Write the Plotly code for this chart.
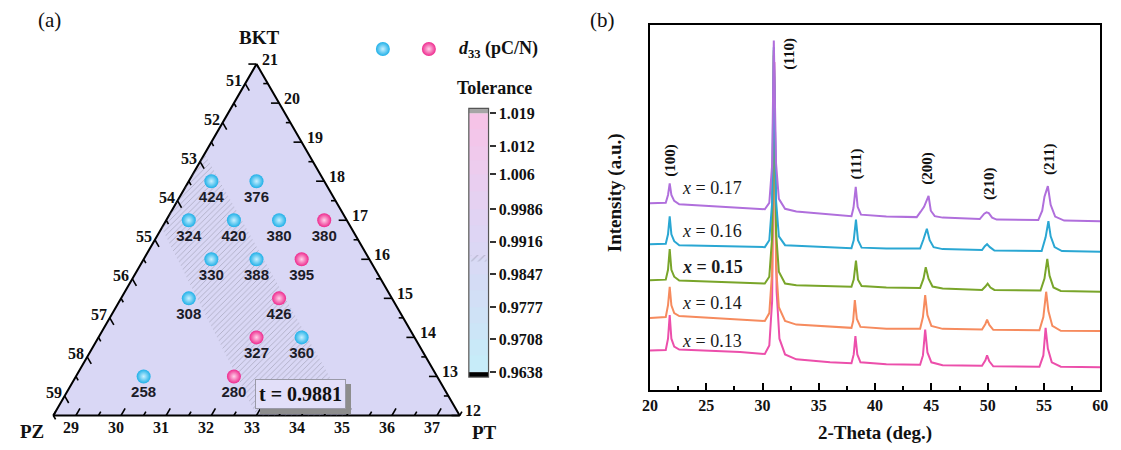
import numpy as np
import plotly.graph_objects as go

# ---------------- (a) ternary diagram data ----------------
BKT = [18, 18, 17, 17, 17, 17, 16, 16, 16, 15, 15, 14, 14, 13, 13]
PT = [29, 30, 29, 30, 31, 32, 30, 31, 32, 30, 32, 32, 33, 32, 30]
PZ = [53, 52, 54, 53, 52, 51, 54, 53, 52, 55, 53, 54, 53, 55, 57]
D33 = [424, 376, 324, 420, 380, 380, 330, 388, 395, 308, 426, 327, 360, 280, 258]
PINK = [0, 0, 0, 0, 0, 1, 0, 0, 1, 0, 1, 1, 0, 1, 0]

TOTAL = 100.0
BKT_MIN, PT_MIN, PZ_MIN = 12.0, 28.5, 50.5
BKT_TICKS = list(range(12, 22))
PZ_TICKS = list(range(51, 60))
PT_TICKS = list(range(29, 38))

BAND_BKT = [18.7, 12.0, 12.0, 16.8]
BAND_PT = [28.5, 35.1, 33.0, 28.5]
T_LABEL = "t = 0.9881"
LEGEND_TEXT = "<i>d</i><sub>33</sub> (pC/N)"

TOL_TICKS = [0.9638, 0.9708, 0.9777, 0.9847, 0.9916, 0.9986, 1.006, 1.012, 1.019]
TOL_TEXT = ["0.9638", "0.9708", "0.9777", "0.9847", "0.9916", "0.9986", "1.006", "1.012", "1.019"]
TOL_COLORS = ["#c6eefa", "#cae7f7", "#d0e0f6", "#d6dbf5", "#dcd6f4", "#e3d2f2", "#ebcdef", "#f2c7eb", "#f8c2e6"]
T_MARK = 0.9881

# ---------------- (b) XRD data ----------------
SAMPLES = ["0.13", "0.14", "0.15", "0.16", "0.17"]
LINE_COLORS = ["#ec4fab", "#f68b5e", "#79a52a", "#2aa7d3", "#b06fdc"]

X13 = [20, 21.4, 21.6, 21.75, 21.9, 22.15, 22.6, 25, 28, 30.2, 30.6, 30.85, 31.05, 31.25, 31.5, 32.0, 33.0,
       36, 37.9, 38.1, 38.25, 38.42, 38.7, 41, 44.0, 44.25, 44.45, 44.65, 45.0, 46,
       49.5, 49.8, 49.95, 50.15, 50.5, 54.6, 54.95, 55.15, 55.35, 55.7, 56.5, 60]
Y13 = [40, 40.5, 52, 76, 52, 44, 41, 40, 38.5, 36.5, 45, 90, 333, 100, 52, 36, 31,
       28, 27, 36, 54.7, 36, 28, 26, 25.5, 35, 61.3, 38, 28, 25,
       24.5, 30, 35, 29, 24, 23.5, 35, 63, 42, 28, 23.5, 23]
X14 = [20, 21.4, 21.6, 21.75, 21.9, 22.15, 22.6, 25, 28, 30.2, 30.6, 30.85, 31.0, 31.2, 31.45, 32.0, 33.0,
       36, 37.9, 38.05, 38.2, 38.38, 38.7, 41, 44.0, 44.25, 44.45, 44.65, 45.0, 46,
       49.5, 49.8, 49.95, 50.15, 50.5, 54.6, 54.95, 55.2, 55.4, 55.75, 56.5, 60]
Y14 = [73, 74, 86, 104.7, 86, 78, 75, 73.5, 72, 70, 78, 120, 340, 125, 84, 70, 66.3,
       64, 63, 70, 91.3, 72, 64, 62, 62, 74, 96.3, 76, 65, 62,
       61.3, 67, 71.3, 66, 61, 60.5, 74, 99.7, 80, 65, 60, 59.7]
X15 = [20, 21.4, 21.6, 21.75, 21.9, 22.15, 22.6, 25, 28, 30.2, 30.6, 30.85, 31.0, 31.2, 31.45, 32.0, 33.0,
       36, 37.9, 38.1, 38.3, 38.48, 38.8, 41, 44.0, 44.3, 44.5, 44.75, 45.1, 46,
       49.5, 49.8, 50.0, 50.25, 50.6, 54.7, 55.05, 55.3, 55.5, 55.85, 56.5, 60]
Y15 = [111.3, 112, 122, 143, 122, 115, 111, 110, 109, 108, 115, 155, 345, 160, 120, 108, 106.3,
       105.5, 104.7, 112, 131.3, 112, 105.5, 104, 103.5, 113, 124.7, 113, 105, 103,
       101.5, 105, 108, 104, 101.5, 101, 113, 133, 116, 104, 100.5, 99.7]
X16 = [20, 21.4, 21.6, 21.75, 21.9, 22.15, 22.6, 25, 28, 30.2, 30.6, 30.85, 31.0, 31.2, 31.45, 32.0, 33.0,
       36, 37.9, 38.1, 38.3, 38.48, 38.8, 41, 44.0, 44.3, 44.6, 44.85, 45.2, 46,
       49.5, 49.75, 49.95, 50.2, 50.6, 54.8, 55.15, 55.4, 55.6, 55.95, 56.6, 60]
Y16 = [148, 148.5, 158, 176.3, 158, 151, 147, 146.5, 146, 145, 152, 190, 348, 192, 156, 147, 146.3,
       145, 144, 152, 173, 152, 144.5, 143.5, 143.5, 153, 163.7, 152, 145, 143,
       142, 146, 148, 145, 141.5, 141, 155, 171.3, 156, 145, 141, 140.3]
X17 = [20, 21.4, 21.6, 21.75, 21.9, 22.15, 22.6, 25, 28, 30.2, 30.6, 30.85, 31.0, 31.2, 31.45, 32.0, 33.0,
       36, 37.9, 38.08, 38.28, 38.45, 38.75, 41, 43.7, 44.05, 44.35, 44.75, 44.95, 45.3, 46,
       49.3, 49.7, 49.9, 50.1, 50.4, 50.8, 54.5, 54.85, 55.05, 55.35, 55.6, 56.0, 56.8, 60]
Y17 = [189.7, 190, 198, 209.7, 198, 192, 188.5, 187, 185, 183.5, 190, 228, 355, 230, 194, 184, 181.3,
       178.5, 176.5, 185, 206.3, 186, 178, 176, 175.5, 181, 186, 197, 182, 176.5, 175,
       173.5, 179, 180.3, 179.5, 175, 173, 172.5, 182, 196.3, 207, 188, 176, 172, 171.3]
XRD_X = [X13, X14, X15, X16, X17]
XRD_Y = [Y13, Y14, Y15, Y16, Y17]

SAMPLE_LABEL_X = 22.7
SAMPLE_LABEL_Y = [50, 88, 125, 161, 205]

PEAK_HKL = ["(100)", "(110)", "(111)", "(200)", "(210)", "(211)"]
PEAK_LABEL_X = [21.8, 32.4, 38.3, 44.65, 50.1, 55.5]
PEAK_LABEL_Y = [233, 341, 230, 225, 210, 234]

# ---------------- helpers ----------------
W, H = 1121, 450
SERIF = "Liberation Serif"
SANS = "Liberation Sans"
S3 = np.sqrt(3) / 2


def tern_xy(bkt, pt):
    bkt = np.asarray(bkt, float)
    pt = np.asarray(pt, float)
    return pt + bkt / 2.0, bkt * S3


fig = go.Figure()

# triangle
BKT_MAX = TOTAL - PT_MIN - PZ_MIN
PT_MAX = TOTAL - BKT_MIN - PZ_MIN
cx, cy = tern_xy([BKT_MAX, BKT_MIN, BKT_MIN, BKT_MAX], [PT_MIN, PT_MIN, PT_MAX, PT_MIN])
fig.add_trace(go.Scatter(x=cx, y=cy, mode="lines", fill="toself", fillcolor="#d9d7f5",
                         line=dict(color="black", width=2), hoverinfo="skip", showlegend=False))

# hatched band
bx, by = tern_xy(BAND_BKT + BAND_BKT[:1], BAND_PT + BAND_PT[:1])
fig.add_trace(go.Scatter(x=bx, y=by, mode="lines", fill="toself", fillcolor="rgba(0,0,0,0)",
                         fillpattern=dict(shape="/", fgcolor="#858596", size=4, solidity=0.22,
                                          bgcolor="rgba(0,0,0,0)"),
                         line=dict(width=0, color="rgba(0,0,0,0)"), hoverinfo="skip", showlegend=False))

# ticks
tx, ty = [], []
def add_tick(x0, y0, dx, dy, length):
    tx.extend([x0, x0 + dx * length, None])
    ty.extend([y0, y0 + dy * length, None])

for v in np.arange(BKT_MIN, BKT_MAX + 0.01, 0.5):
    x0, y0 = tern_xy(v, TOTAL - PZ_MIN - v)
    add_tick(float(x0), float(y0), -1.0, 0.0, 0.18 if v % 1 == 0 else 0.1)
for v in np.arange(PZ_MIN, TOTAL - BKT_MIN - PT_MIN + 0.01, 0.5):
    x0, y0 = tern_xy(TOTAL - v - PT_MIN, PT_MIN)
    add_tick(float(x0), float(y0), 0.5, -S3, 0.18 if v % 1 == 0 else 0.1)
for v in np.arange(PT_MIN, PT_MAX + 0.01, 0.5):
    x0, y0 = tern_xy(BKT_MIN, v)
    add_tick(float(x0), float(y0), 0.5, S3, 0.18 if v % 1 == 0 else 0.1)
fig.add_trace(go.Scatter(x=tx, y=ty, mode="lines", line=dict(color="black", width=1.6),
                         hoverinfo="skip", showlegend=False))

# points
for flag, col, grad in [(0, "#1fb0e8", "#c9f0ff"), (1, "#ee2a8e", "#ffd2ea")]:
    idx = [i for i, p in enumerate(PINK) if p == flag]
    px, py = tern_xy([BKT[i] for i in idx], [PT[i] for i in idx])
    fig.add_trace(go.Scatter(
        x=px, y=py, mode="markers+text", name=" ",
        text=[str(D33[i]) for i in idx], textposition="bottom center",
        textfont=dict(family=SANS, size=15, color="#1c1c28", weight="bold"),
        marker=dict(size=14, color=col, gradient=dict(type="radial", color=grad), line=dict(width=0)),
        cliponaxis=False, hoverinfo="skip", showlegend=True))

# ---------------- colorbar (heatmap) ----------------
tt = np.array(TOL_TICKS)
edges = np.sort(np.concatenate([tt, (tt[:-1] + tt[1:]) / 2]))
centers = (edges[:-1] + edges[1:]) / 2
cs = [[(t - tt[0]) / (tt[-1] - tt[0]), c] for t, c in zip(TOL_TICKS, TOL_COLORS)]
fig.add_trace(go.Heatmap(x=[0, 1], y=edges, z=[[c] for c in centers], colorscale=cs,
                         zmin=tt[0], zmax=tt[-1], showscale=False, hoverinfo="skip",
                         xaxis="x3", yaxis="y3"))
fig.add_trace(go.Scatter(x=[0.1, 0.9, 0.9, 0.1, 0.1],
                         y=[T_MARK - 0.0007, T_MARK - 0.0007, T_MARK + 0.0007, T_MARK + 0.0007, T_MARK - 0.0007],
                         mode="lines", fill="toself", fillcolor="rgba(0,0,0,0)",
                         fillpattern=dict(shape="/", fgcolor="#9a9ab0", size=5, solidity=0.25),
                         line=dict(width=0), xaxis="x3", yaxis="y3", hoverinfo="skip", showlegend=False))

# ---------------- (b) XRD ----------------
for xs, ys, col in zip(XRD_X, XRD_Y, LINE_COLORS):
    fig.add_trace(go.Scatter(x=xs, y=ys, mode="lines", line=dict(color=col, width=2),
                             xaxis="x2", yaxis="y2", hoverinfo="skip", showlegend=False))

# ---------------- annotations ----------------
ann = []
lab_font = dict(family=SERIF, size=16, color="#111", weight="bold")
for v in BKT_TICKS:
    x0, y0 = tern_xy(v, TOTAL - PZ_MIN - v)
    ann.append(dict(x=float(x0), y=float(y0), xref="x", yref="y", text=str(v), showarrow=False,
                    xanchor="left", yanchor="middle", xshift=3, yshift=5, font=lab_font))
for v in PZ_TICKS:
    x0, y0 = tern_xy(TOTAL - v - PT_MIN, PT_MIN)
    ann.append(dict(x=float(x0), y=float(y0), xref="x", yref="y", text=str(v), showarrow=False,
                    xanchor="right", yanchor="middle", xshift=-1, yshift=3, font=lab_font))
for v in PT_TICKS:
    x0, y0 = tern_xy(BKT_MIN, v)
    ann.append(dict(x=float(x0), y=float(y0), xref="x", yref="y", text=str(v), showarrow=False,
                    xanchor="center", yanchor="middle", xshift=-5, yshift=-12, font=lab_font))

title_font = dict(family=SERIF, size=19, color="#111", weight="bold")
tx0, ty0 = tern_xy(BKT_MAX, PT_MIN)
ann.append(dict(x=float(tx0), y=float(ty0), xref="x", yref="y", text="BKT", showarrow=False,
                xanchor="center", yanchor="middle", yshift=27, xshift=2, font=title_font))
lx0, ly0 = tern_xy(BKT_MIN, PT_MIN)
ann.append(dict(x=float(lx0), y=float(ly0), xref="x", yref="y", text="PZ", showarrow=False,
                xanchor="center", yanchor="middle", xshift=-21, yshift=-16, font=title_font))
rx0, ry0 = tern_xy(BKT_MIN, PT_MAX)
ann.append(dict(x=float(rx0), y=float(ry0), xref="x", yref="y", text="PT", showarrow=False,
                xanchor="center", yanchor="middle", xshift=25, yshift=-17, font=title_font))


def paper_ann(px, py, text, font, **kw):
    d = dict(x=px / W, y=1 - py / H, xref="paper", yref="paper", text=text, showarrow=False,
             xanchor="center", yanchor="middle", font=font)
    d.update(kw)
    return d


# t label with shadow
ann.append(paper_ann(296.7, 396.7, T_LABEL, dict(family=SERIF, size=20, color="rgba(0,0,0,0)", weight="bold"),
                     xshift=5, yshift=-5, bgcolor="#8d8d8d", bordercolor="#8d8d8d", borderwidth=1, borderpad=3))
ann.append(paper_ann(296.7, 396.7, T_LABEL, dict(family=SERIF, size=20, color="#111", weight="bold"),
                     bgcolor="#e2dff9", bordercolor="#9a9aa8", borderwidth=1, borderpad=3))

ann.append(paper_ann(494, 86, "Tolerance", dict(family=SERIF, size=18, color="#111", weight="bold")))
ann.append(paper_ann(455, 47, LEGEND_TEXT, dict(family=SERIF, size=18, color="#111", weight="bold"),
                     xanchor="left"))
ann.append(paper_ann(42, 17, "(a)", dict(family=SERIF, size=21, color="#111")))
ann.append(paper_ann(603, 17, "(b)", dict(family=SERIF, size=21, color="#111")))

for i, s in enumerate(SAMPLES):
    txt = f"<i>x</i> = {s}"
    if s == "0.15":
        txt = f"<b><i>x</i> = {s}</b>"
    ann.append(dict(x=SAMPLE_LABEL_X, y=SAMPLE_LABEL_Y[i], xref="x2", yref="y2", text=txt,
                    showarrow=False, xanchor="left", yanchor="middle",
                    font=dict(family=SERIF, size=18, color="#1a1a1a")))
for hkl, x0, y0 in zip(PEAK_HKL, PEAK_LABEL_X, PEAK_LABEL_Y):
    ann.append(dict(x=x0, y=y0, xref="x2", yref="y2", text=hkl, showarrow=False, textangle=-90,
                    xanchor="center", yanchor="middle",
                    font=dict(family=SERIF, size=15, color="#111", weight="bold")))
ann.append(paper_ann(616, 193, "Intensity (a.u.)", dict(family=SERIF, size=19, color="#111", weight="bold"),
                     textangle=-90))
ann.append(paper_ann(880, 437, "2-Theta (deg.)", dict(family=SERIF, size=19, color="#111", weight="bold")))

# ---------------- layout ----------------
SCALE = 45.8  # px per composition unit
X0, Y0 = tern_xy(BKT_MIN, PT_MIN)
ORG_PX, ORG_PY = 46.0, 419.0
PANEL_A_W = 560.0
xr = [float(X0) - ORG_PX / SCALE, float(X0) + (PANEL_A_W - ORG_PX) / SCALE]
yr = [float(Y0) - (H - ORG_PY) / SCALE, float(Y0) + ORG_PY / SCALE]

shapes = [
    dict(type="rect", xref="x3 domain", yref="y3", x0=0, x1=1, y0=0.96275, y1=TOL_TICKS[0],
         fillcolor="black", line=dict(width=0)),
    dict(type="rect", xref="x3 domain", yref="y3", x0=0, x1=1, y0=TOL_TICKS[-1], y1=1.02005,
         fillcolor="#a5a5a5", line=dict(width=0)),
    dict(type="rect", xref="x3 domain", yref="y3 domain", x0=0, x1=1, y0=0, y1=1,
         line=dict(color="#555", width=1.2)),
]

fig.update_layout(
    width=W, height=H, margin=dict(l=0, r=0, t=0, b=0),
    paper_bgcolor="white", plot_bgcolor="rgba(0,0,0,0)",
    showlegend=True,
    legend=dict(orientation="h", x=(381 - 21) / W, y=1 - 47 / H, xanchor="left", yanchor="middle",
                bgcolor="rgba(0,0,0,0)", entrywidth=1, entrywidthmode="pixels",
                font=dict(family=SERIF, size=18, color="#111", weight="bold"), itemclick=False),
    xaxis=dict(domain=[0, PANEL_A_W / W], range=xr, visible=False, fixedrange=True),
    yaxis=dict(domain=[0, 1], range=yr, visible=False, fixedrange=True),
    xaxis2=dict(domain=[651.3 / W, 1108 / W], range=[20, 60], anchor="y2", showline=True, linecolor="black",
                linewidth=2, mirror=True, ticks="inside", ticklen=7, tickwidth=2, tickcolor="black",
                tick0=20, dtick=5, minor=dict(ticks="inside", dtick=2.5, ticklen=4, tickwidth=1.5, tickcolor="black"),
                tickfont=dict(family=SERIF, size=16, color="#111", weight="bold"),
                showgrid=False, zeroline=False),
    yaxis2=dict(domain=[57 / H, 427.5 / H], range=[0, 370.5], anchor="x2", showline=True, linecolor="black",
                linewidth=2, mirror=True, ticks="", showticklabels=False, showgrid=False, zeroline=False),
    xaxis3=dict(domain=[467.5 / W, 487.5 / W], range=[0, 1], anchor="y3", visible=False),
    yaxis3=dict(domain=[70 / H, 343 / H], range=[0.96275, 1.02005], anchor="x3", side="right",
                tickvals=TOL_TICKS, ticktext=TOL_TEXT, ticks="outside", ticklen=6, tickwidth=1.5,
                tickcolor="#333", tickfont=dict(family=SERIF, size=16, color="#111", weight="bold"),
                showgrid=False, zeroline=False, showline=False),
    annotations=ann, shapes=shapes,
)

fig.write_html("out.html")
